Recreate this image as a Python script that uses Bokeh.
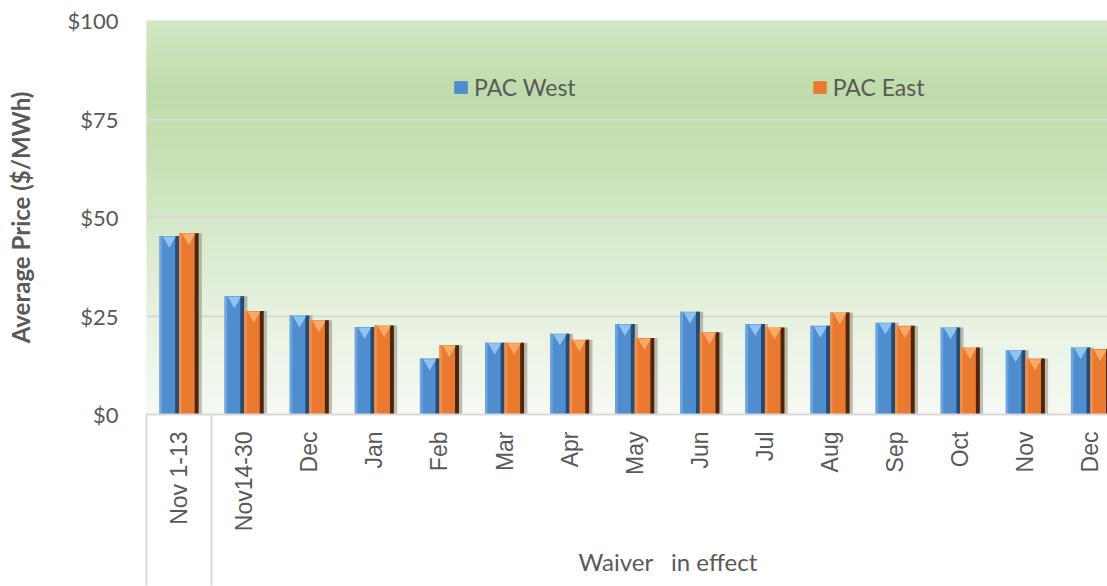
import math
from bokeh.plotting import figure
from bokeh.models import (ColumnDataSource, Range1d, FixedTicker, Legend,
                          LegendItem, Title)
from bokeh.transform import dodge
from bokeh.embed import file_html
from bokeh.resources import INLINE

# ---------------- data ----------------
categories = ["Nov 1-13", "Nov14-30", "Dec", "Jan", "Feb", "Mar", "Apr", "May",
              "Jun", "Jul", "Aug", "Sep", "Oct", "Nov", "Dec"]
pac_west = [45.3, 30.0, 25.1, 22.2, 14.2, 18.2, 20.5, 23.0, 26.1, 23.0, 22.5, 23.3, 22.1, 16.3, 17.0]
pac_east = [46.0, 26.3, 23.9, 22.6, 17.6, 18.2, 19.0, 19.4, 20.9, 22.1, 25.9, 22.5, 17.0, 14.2, 16.6]
series_names = ["PAC West", "PAC East"]
y_ticks = [0, 25, 50, 75, 100]
y_tick_labels = ["$0", "$25", "$50", "$75", "$100"]
group_names = ["", "Waiver\u00a0\u00a0 in effect"]
group_sizes = [1, 14]

# ---------------- style ----------------
FONT = "Lato"
XFONT = "Liberation Sans"
TXT = "#595959"
GRID = "#d9d9d9"
BLUE, BLUE_D, BLUE_L, BLUE_T = "#4f8dcf", "#264a70", "#6aa5df", "#8fc4f2"
ORNG, ORNG_D, ORNG_L, ORNG_T = "#e97a2f", "#4a260c", "#f08f47", "#f8aa66"
BAR_W = 0.30
W, H = 1107, 586
LEFT, TOP, BOTTOM = 146, 20, 171
X_END = (W - LEFT) / 65.1   # visible extent of the category axis (chart is cut at the right)
SEP_LEN = BOTTOM            # group separator lines run to the bottom edge

xs = [i + 0.5 for i in range(len(categories))]
src = ColumnDataSource(dict(x=xs, west=pac_west, east=pac_east))

p = figure(width=W, height=H, output_backend="svg", toolbar_location=None,
           x_range=Range1d(0, X_END), y_range=Range1d(y_ticks[0], y_ticks[-1]),
           min_border_left=LEFT, min_border_right=0, min_border_top=TOP,
           min_border_bottom=BOTTOM)
p.outline_line_color = None
p.background_fill_color = "white"
p.border_fill_color = "white"

# gradient background of the plot area
stops = [(0.0, (210, 230, 196)), (0.17, (192, 220, 171)), (0.32, (197, 223, 178)),
         (0.55, (216, 234, 204)), (0.8, (234, 243, 228)), (1.0, (246, 249, 243))]
def interp(f):
    for (f0, c0), (f1, c1) in zip(stops[:-1], stops[1:]):
        if f0 <= f <= f1:
            t = (f - f0) / (f1 - f0)
            return "#%02x%02x%02x" % tuple(int(round(a + (b - a) * t)) for a, b in zip(c0, c1))
    return "#%02x%02x%02x" % stops[-1][1]
n = 90
span = y_ticks[-1] - y_ticks[0]
bg = dict(top=[y_ticks[-1] - i * span / n for i in range(n)],
          bottom=[y_ticks[-1] - (i + 1) * span / n for i in range(n)],
          color=[interp((i + 0.5) / n) for i in range(n)])
p.quad(left=0, right=X_END, top="top", bottom="bottom", fill_color="color",
       line_color="color", line_width=1, source=ColumnDataSource(bg), level="image")

# bars with a bevelled look
def bars(col, off, main, dark, light, tip):
    r = p.vbar(x=dodge("x", off, range=p.x_range), top=col, width=BAR_W, bottom=0,
               source=src, fill_color=main, line_color=None)
    p.vbar(x=dodge("x", off + BAR_W / 2 + 0.025, range=p.x_range), top=col, width=0.05,
           bottom=0, source=src, fill_color="#7d7468", fill_alpha=0.45, line_color=None)
    p.vbar(x=dodge("x", off + BAR_W / 2 - 0.03, range=p.x_range), top=col, width=0.06,
           bottom=0, source=src, fill_color=dark, line_color=None)
    p.vbar(x=dodge("x", off - BAR_W / 2 + 0.02, range=p.x_range), top=col, width=0.04,
           bottom=0, source=src, fill_color=light, line_color=None)
    p.scatter(x=dodge("x", off, range=p.x_range), y=dodge(col, -1.1), source=src,
              marker="inverted_triangle", size=13, fill_color=tip, line_color=None)
    return r

r_w = bars("west", -BAR_W / 2, BLUE, BLUE_D, BLUE_L, BLUE_T)
r_e = bars("east", BAR_W / 2, ORNG, ORNG_D, ORNG_L, ORNG_T)

# y axis
p.yaxis.ticker = FixedTicker(ticks=y_ticks)
p.yaxis.major_label_overrides = dict(zip(y_ticks, y_tick_labels))
p.yaxis.axis_line_color = None
p.yaxis.major_tick_line_color = None
p.yaxis.minor_tick_line_color = None
p.yaxis.major_label_standoff = 22
p.yaxis.major_label_text_font = FONT
p.yaxis.major_label_text_font_size = "22px"
p.yaxis.major_label_text_color = TXT
p.yaxis.axis_label = "Average Price ($/MWh)"
p.yaxis.axis_label_text_font = FONT
p.yaxis.axis_label_text_font_style = "bold"
p.yaxis.axis_label_text_font_size = "24px"
p.yaxis.axis_label_text_color = TXT
p.yaxis.axis_label_standoff = 29

p.ygrid.ticker = FixedTicker(ticks=y_ticks)
p.ygrid.grid_line_color = GRID
p.ygrid.grid_line_width = 2
p.xgrid.grid_line_color = None

# x axis: category labels + group separators (long minor ticks)
bounds = [0]
for s in group_sizes:
    bounds.append(bounds[-1] + s)
p.xaxis.ticker = FixedTicker(ticks=xs, minor_ticks=bounds[:-1])
p.xaxis.major_label_overrides = dict(zip(xs, categories))
p.xaxis.major_label_orientation = math.pi / 2
p.xaxis.major_label_standoff = 17 - SEP_LEN
p.xaxis.major_label_text_font = XFONT
p.xaxis.major_label_text_font_size = "23px"
p.xaxis.major_label_text_color = TXT
p.xaxis.axis_line_color = GRID
p.xaxis.axis_line_width = 2
p.xaxis.major_tick_line_color = None
p.xaxis.minor_tick_line_color = GRID
p.xaxis.minor_tick_line_width = 2
p.xaxis.minor_tick_in = 0
p.xaxis.minor_tick_out = SEP_LEN

# group label under the axis
for name, b0, b1 in zip(group_names, bounds[:-1], bounds[1:]):
    if name:
        p.add_layout(Title(text=name, align="left", offset=432, standoff=21,
                           text_font=FONT, text_font_size="24px",
                           text_font_style="normal", text_color=TXT), "below")

# legend
legend = Legend(items=[LegendItem(label=series_names[0], renderers=[r_w]),
                       LegendItem(label=series_names[1], renderers=[r_e])],
                orientation="horizontal", location=(306, 313), spacing=235,
                padding=0, margin=0, glyph_width=17, glyph_height=16,
                label_standoff=5, label_text_font=FONT, label_text_font_size="23px",
                label_text_color=TXT, background_fill_alpha=0,
                border_line_color=None)
p.add_layout(legend)

open("out.html", "w").write(file_html(p, INLINE))
